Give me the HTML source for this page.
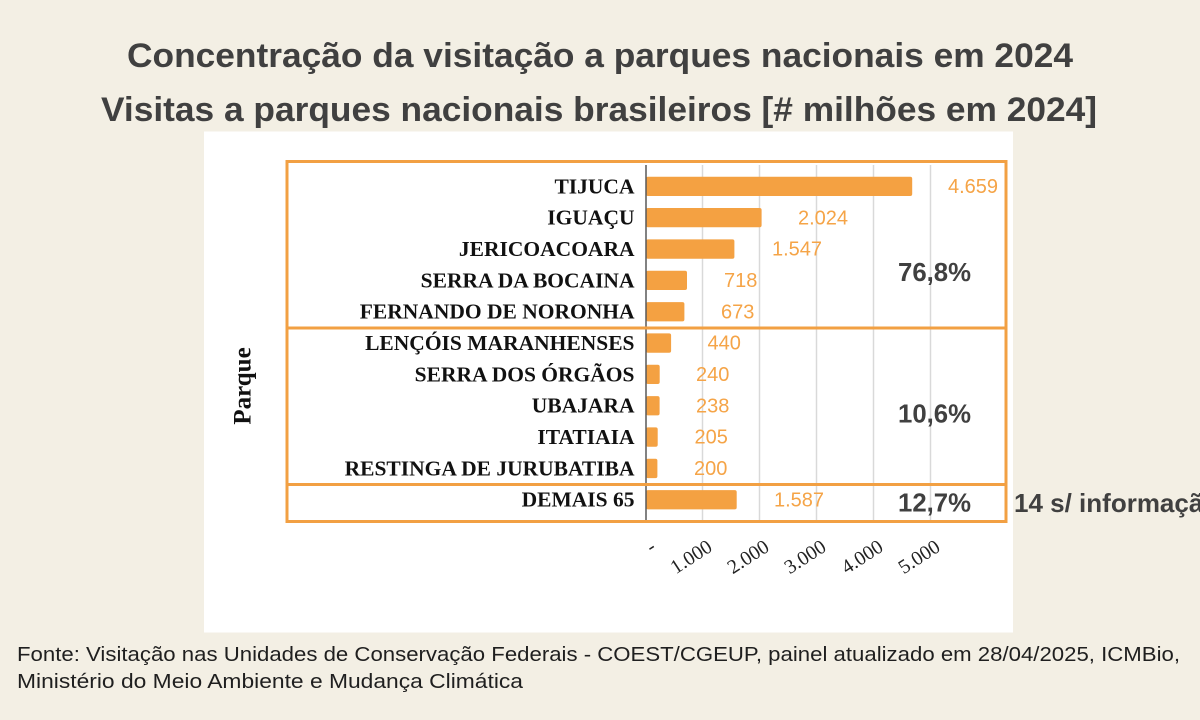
<!DOCTYPE html>
<html>
<head>
<meta charset="utf-8">
<style>
  html,body{margin:0;padding:0;background:#f3efe4;}
  svg{display:block;}
</style>
</head>
<body>
<svg width="1200" height="720" viewBox="0 0 1200 720" xmlns="http://www.w3.org/2000/svg">
  <rect x="0" y="0" width="1200" height="720" fill="#f3efe4"/>

  <!-- Titles -->
  <text x="127" y="67" font-family="Liberation Sans, Arial, sans-serif" font-weight="bold" font-size="34" fill="#404040" textLength="946" lengthAdjust="spacingAndGlyphs">Concentração da visitação a parques nacionais em 2024</text>
  <text x="101" y="121" font-family="Liberation Sans, Arial, sans-serif" font-weight="bold" font-size="34" fill="#404040" textLength="996" lengthAdjust="spacingAndGlyphs">Visitas a parques nacionais brasileiros [# milhões em 2024]</text>

  <!-- White panel -->
  <rect x="204" y="131.5" width="809" height="501" fill="#ffffff"/>

  <!-- Gridlines -->
  <g stroke="#d9d9d9" stroke-width="1.5">
    <line x1="702.5" y1="165" x2="702.5" y2="520"/>
    <line x1="759.5" y1="165" x2="759.5" y2="520"/>
    <line x1="816.5" y1="165" x2="816.5" y2="520"/>
    <line x1="873.5" y1="165" x2="873.5" y2="520"/>
    <line x1="930.5" y1="165" x2="930.5" y2="520"/>
  </g>

  <!-- Bars -->
  <g fill="#f4a142">
    <rect x="646" y="176.7" width="266.2" height="19.3" rx="2"/>
    <rect x="646" y="208.0" width="115.6" height="19.3" rx="2"/>
    <rect x="646" y="239.4" width="88.4" height="19.3" rx="2"/>
    <rect x="646" y="270.7" width="41.0" height="19.3" rx="2"/>
    <rect x="646" y="302.1" width="38.4" height="19.3" rx="2"/>
    <rect x="646" y="333.4" width="25.1" height="19.3" rx="2"/>
    <rect x="646" y="364.7" width="13.7" height="19.3" rx="2"/>
    <rect x="646" y="396.1" width="13.6" height="19.3" rx="2"/>
    <rect x="646" y="427.4" width="11.7" height="19.3" rx="2"/>
    <rect x="646" y="458.8" width="11.4" height="19.3" rx="2"/>
    <rect x="646" y="490.1" width="90.7" height="19.3" rx="2"/>
  </g>

  <!-- Axis line -->
  <line x1="646" y1="165" x2="646" y2="520" stroke="#595959" stroke-width="1.5"/>

  <!-- Orange boxes -->
  <g stroke="#f2a043" stroke-width="3" fill="none">
    <rect x="287" y="161.5" width="719" height="360"/>
    <line x1="287" y1="328" x2="1006" y2="328"/>
    <line x1="287" y1="484.5" x2="1006" y2="484.5"/>
  </g>

  <!-- Category labels -->
  <g font-family="Liberation Serif, Times New Roman, serif" font-weight="bold" font-size="21.5" fill="#111111" text-anchor="end">
    <text x="634.5" y="193.3">TIJUCA</text>
    <text x="634.5" y="224.6">IGUAÇU</text>
    <text x="634.5" y="256.0">JERICOACOARA</text>
    <text x="634.5" y="287.3">SERRA DA BOCAINA</text>
    <text x="634.5" y="318.7">FERNANDO DE NORONHA</text>
    <text x="634.5" y="350.0">LENÇÓIS MARANHENSES</text>
    <text x="634.5" y="381.3">SERRA DOS ÓRGÃOS</text>
    <text x="634.5" y="412.7">UBAJARA</text>
    <text x="634.5" y="444.0">ITATIAIA</text>
    <text x="634.5" y="475.4">RESTINGA DE JURUBATIBA</text>
    <text x="634.5" y="506.7">DEMAIS 65</text>
  </g>

  <!-- Value labels -->
  <g font-family="Liberation Sans, Arial, sans-serif" font-size="20" fill="#f5a447">
    <text x="948" y="193">4.659</text>
    <text x="798" y="224.3">2.024</text>
    <text x="772" y="255.7">1.547</text>
    <text x="724" y="287">718</text>
    <text x="721" y="318.4">673</text>
    <text x="707.5" y="349.7">440</text>
    <text x="696" y="381">240</text>
    <text x="696" y="412.4">238</text>
    <text x="694.5" y="443.7">205</text>
    <text x="694" y="475.1">200</text>
    <text x="774" y="506.4">1.587</text>
  </g>

  <!-- Percentages -->
  <g font-family="Liberation Sans, Arial, sans-serif" font-weight="bold" font-size="26" fill="#404040">
    <text x="898" y="281" textLength="73" lengthAdjust="spacingAndGlyphs">76,8%</text>
    <text x="898" y="422.7" textLength="73" lengthAdjust="spacingAndGlyphs">10,6%</text>
    <text x="898" y="511.7" textLength="73" lengthAdjust="spacingAndGlyphs">12,7%</text>
    <text x="1014" y="512">14 s/ informação</text>
  </g>

  <!-- X tick labels -->
  <g font-family="Liberation Serif, Times New Roman, serif" font-size="20" fill="#222222" text-anchor="end">
    <text transform="translate(657,550) rotate(-33)">-</text>
    <text transform="translate(713.5,550) rotate(-33)">1.000</text>
    <text transform="translate(770.5,550) rotate(-33)">2.000</text>
    <text transform="translate(827.5,550) rotate(-33)">3.000</text>
    <text transform="translate(884.5,550) rotate(-33)">4.000</text>
    <text transform="translate(941.5,550) rotate(-33)">5.000</text>
  </g>

  <!-- Y axis title -->
  <text transform="translate(250.5,386) rotate(-90)" text-anchor="middle" font-family="Liberation Serif, Times New Roman, serif" font-weight="bold" font-size="25" fill="#111111">Parque</text>

  <!-- Footnote -->
  <g font-family="Liberation Sans, Arial, sans-serif" font-size="20" fill="#1f1f1f">
    <text x="17" y="661" textLength="1163" lengthAdjust="spacingAndGlyphs">Fonte: Visitação nas Unidades de Conservação Federais - COEST/CGEUP, painel atualizado em 28/04/2025, ICMBio,</text>
    <text x="17" y="688" textLength="506" lengthAdjust="spacingAndGlyphs">Ministério do Meio Ambiente e Mudança Climática</text>
  </g>
</svg>
</body>
</html>
